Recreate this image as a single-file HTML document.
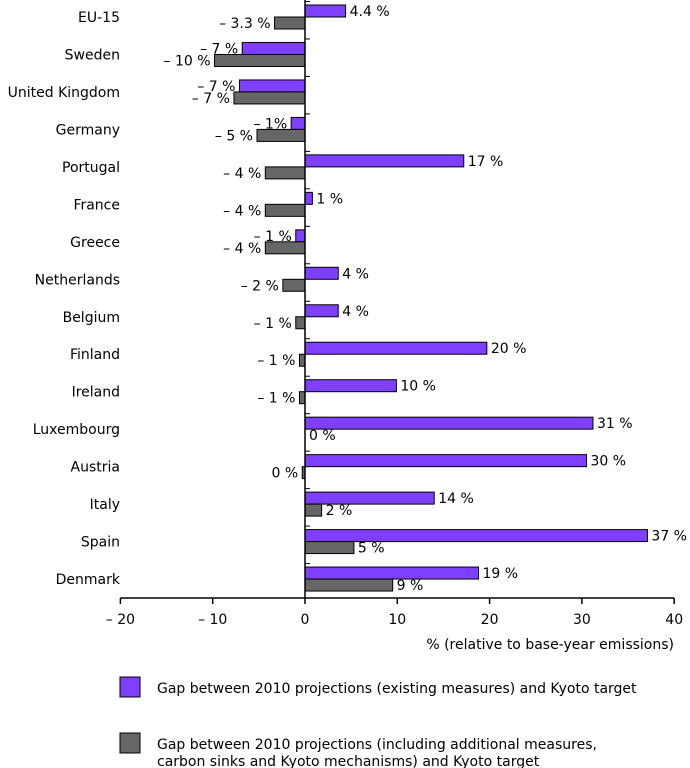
<!DOCTYPE html>
<html><head><meta charset="utf-8"><style>
body{margin:0;background:#fff;}
svg{display:block;font-family:"DejaVu Sans","Liberation Sans",sans-serif;}
</style></head><body>
<svg id="chart" width="690" height="768"></svg>
<script>
const categories=["EU-15","Sweden","United Kingdom","Germany","Portugal","France","Greece","Netherlands","Belgium","Finland","Ireland","Luxembourg","Austria","Italy","Spain","Denmark"];
const existingValues=[4.4,-6.8,-7.1,-1.5,17.2,0.8,-1.0,3.6,3.6,19.7,9.9,31.2,30.5,14,37.1,18.8];
const additionalValues=[-3.3,-9.8,-7.7,-5.2,-4.3,-4.3,-4.3,-2.4,-1,-0.6,-0.6,0,-0.3,1.8,5.3,9.5];
const existingLabels=["4.4 %","– 7 %","– 7 %","– 1%","17 %","1 %","– 1 %","4 %","4 %","20 %","10 %","31 %","30 %","14 %","37 %","19 %"];
const additionalLabels=["– 3.3 %","– 10 %","– 7 %","– 5 %","– 4 %","– 4 %","– 4 %","– 2 %","– 1 %","– 1 %","– 1 %","0 %","0 %","2 %","5 %","9 %"];
const ticks=[-20,-10,0,10,20,30,40];
const tickLabels=["– 20","– 10","0","10","20","30","40"];

const NS="http://www.w3.org/2000/svg";
const svg=document.getElementById('chart');
const x=v=>305+(v)*9.23;
const rowC=i=>17+i*37.47;
function mk(t,a,txt){const e=document.createElementNS(NS,t);for(const k in a)e.setAttribute(k,a[k]);if(txt!==undefined)e.textContent=txt;svg.appendChild(e);return e;}

categories.forEach((c,i)=>{
  const cy=rowC(i);
  let t=mk('text',{x:120,y:cy+5,'text-anchor':'end','font-size':14,fill:'#000'},c);
  
  
  const series=[[existingValues[i],existingLabels[i],'#7f3fff',cy-12,'bar-existing','label-existing'],
                [additionalValues[i],additionalLabels[i],'#666666',cy,'bar-additional','label-additional']];
  series.forEach(([v,lab,col,y0,bn,ln])=>{
    const x0=Math.min(x(0),x(v)),w=Math.abs(x(v)-x(0));
    if(w>0){let r=mk('rect',{x:x0,y:y0,width:w,height:12,fill:col,stroke:'#000','stroke-width':1});
      
      }
    const neg=v<-0.05||(v<0);
    let lt=mk('text',{x:neg?x(v)-4:x(v)+4,y:y0+11,'text-anchor':neg?'end':'start','font-size':14,fill:'#000'},lab);
    
    
  });
  let tk=mk('line',{x1:305,x2:310,y1:cy-15.5,y2:cy-15.5,stroke:'#000'});
  
  
});
let zl=mk('line',{x1:305,x2:305,y1:0,y2:598,stroke:'#000','stroke-width':1.5});


let ax=mk('line',{x1:x(-20),x2:x(40),y1:598,y2:598,stroke:'#000','stroke-width':1.5});


ticks.forEach((v,i)=>{
  let l=mk('line',{x1:x(v),x2:x(v),y1:598,y2:604,stroke:'#000','stroke-width':1.5});
  
  
  let t=mk('text',{x:x(v),y:624,'text-anchor':'middle','font-size':14,fill:'#000'},tickLabels[i]);
  
  
});
let at=mk('text',{x:674,y:649,'text-anchor':'end','font-size':14,fill:'#000'},'% (relative to base-year emissions)');


let s1=mk('rect',{x:120,y:677,width:20,height:20,fill:'#7f3fff',stroke:'#000'});


let l1=mk('text',{x:157,y:693,'font-size':14,fill:'#000'},'Gap between 2010 projections (existing measures) and Kyoto target');


let s2=mk('rect',{x:120,y:733,width:20,height:20,fill:'#666666',stroke:'#000'});


let l2=mk('text',{x:157,y:749,'font-size':14,fill:'#000'},'Gap between 2010 projections (including additional measures,');


let l3=mk('text',{x:157,y:766,'font-size':14,fill:'#000'},'carbon sinks and Kyoto mechanisms) and Kyoto target');


</script>
</body></html>
